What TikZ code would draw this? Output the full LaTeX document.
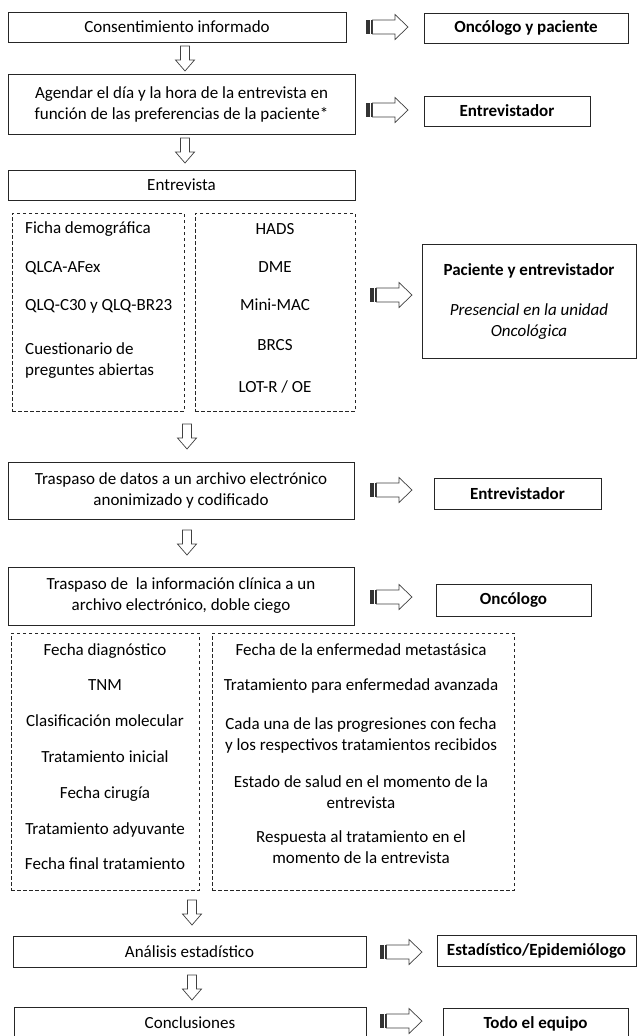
\documentclass[tikz,border=0pt]{standalone}
\usepackage{fontspec}
\setmainfont{Carlito}

\begin{document}
\begin{tikzpicture}
    [
        x = 1pt, y = -1pt,
        every node/.append style = {font = \fontsize{17}{21}\selectfont, inner sep = 0},
        wh/.style 2 args = {minimum width = #1pt, minimum height = #2pt},
        stepbox/.style = {draw = black!85, line width = 0.9pt, align = center},
        rolebox/.style = {stepbox, font = \fontsize{17}{21}\selectfont\bfseries},
        listbox/.style = {draw = black!85, line width = 0.8pt, dash pattern = on 3.5pt off 2.5pt},
        item/.style = {anchor = mid, align = center},
        arrline/.style = {draw = black!75, fill = white, line width = 0.7pt, line join = miter},
        downarr/.pic = {\draw[arrline] (-4.5,0) -- (4.5,0) -- (4.5,14) -- (9.5,14) -- (0,25) -- (-9.5,14) -- (-4.5,14) -- cycle;},
        rightarr/.pic = {
            \fill[black!80] (0,-7) rectangle (3.8,7);
            \fill[black!80] (5,-7) rectangle (6.5,7);
            \draw[arrline] (6.5,-7) -- (29,-7) -- (29,-12.5) -- (42,0) -- (29,12.5) -- (29,7) -- (6.5,7) -- cycle;}
    ]
    \useasboundingbox (0,0) rectangle (637,1036);

    % left column
    \node[stepbox, wh = {338}{30}] (consent) at (177,27) {Consentimiento informado};
    \node[stepbox, wh = {347}{60}] (agenda) at (181.5,104) {Agendar el día y la hora de la entrevista en\\función de las preferencias de la paciente*};
    \node[stepbox, wh = {347}{30}] (entrevista) at (181.5,185) {Entrevista};
    \node[listbox, wh = {172}{198}] (cuestL) at (98,312) {};
    \node[listbox, wh = {160}{198}] (cuestR) at (275,312) {};
    \node[stepbox, wh = {346}{57}] (traspaso) at (181,490.5) {Traspaso de datos a un archivo electrónico\\anonimizado y codificado};
    \node[stepbox, wh = {346}{58}] (clinica) at (181,596) {Traspaso de~ la información clínica a un\\archivo electrónico, doble ciego};
    \node[listbox, wh = {188}{257}] (clinL) at (105,761.5) {};
    \node[listbox, wh = {302}{257}] (clinR) at (363,761.5) {};
    \node[stepbox, wh = {353}{31}] (analisis) at (189.5,951.5) {Análisis estadístico};
    \node[stepbox, wh = {352}{31}] (conclus) at (190,1022.5) {Conclusiones};

    % who does it
    \node[rolebox, wh = {204}{30}] (quien1) at (526,28) {Oncólogo y paciente};
    \node[rolebox, wh = {166}{30}] (quien2) at (507,111) {Entrevistador};
    \node[stepbox, wh = {214}{114}] (quien3) at (529,301) {\textbf{Paciente y entrevistador}\\[19pt]\textit{Presencial en la unidad}\\\textit{Oncológica}};
    \node[rolebox, wh = {167}{31}] (quien4) at (517.5,493.5) {Entrevistador};
    \node[rolebox, wh = {155}{32}] (quien5) at (513.5,600) {Oncólogo};
    \node[rolebox, wh = {199}{31}] (quien6) at (536.5,950.5) {Estadístico/Epidemiólogo};
    \node[rolebox, wh = {185}{32}] (quien7) at (535.5,1024) {Todo el equipo};

    % questionnaires
    \node[anchor = mid west] (ficha) at (25,231) {Ficha demográfica};
    \node[anchor = mid west] (qlca) at (25,270) {QLCA-AFex};
    \node[anchor = mid west] (qlq) at (25,308) {QLQ-C30 y QLQ-BR23};
    \node[anchor = west, align = left] (abiertas) at (25,360.5) {Cuestionario de\\preguntes abiertas};
    \node[item] (hads) at (275,232) {HADS};
    \node[item] (dme) at (275,270) {DME};
    \node[item] (minimac) at (275,308) {Mini-MAC};
    \node[item] (brcs) at (275,348) {BRCS};
    \node[item] (lotr) at (275,390) {LOT-R / OE};

    % clinical data
    \node[item] (fdiag) at (105,653) {Fecha diagnóstico};
    \node[item] (tnm) at (105,688) {TNM};
    \node[item] (molec) at (105,724) {Clasificación molecular};
    \node[item] (tinicial) at (105,760) {Tratamiento inicial};
    \node[item] (fcirugia) at (105,796) {Fecha cirugía};
    \node[item] (adyuv) at (105,832) {Tratamiento adyuvante};
    \node[item] (ffinal) at (105,867) {Fecha final tratamiento};
    \node[item] (metast) at (361,653) {Fecha de la enfermedad metastásica};
    \node[item] (avanz) at (361,688) {Tratamiento para enfermedad avanzada};
    \node[align = center] (progres) at (361,735) {Cada una de las progresiones con fecha\\y los respectivos tratamientos recibidos};
    \node[align = center] (salud) at (361,792) {Estado de salud en el momento de la\\entrevista};
    \node[align = center] (respuesta) at (361,847.5) {Respuesta al tratamiento en el\\momento de la entrevista};

    % arrows
    \pic at (185,46) {downarr};
    \pic at (185,138) {downarr};
    \pic at (187,424) {downarr};
    \pic at (187,530) {downarr};
    \pic at (192,900) {downarr};
    \pic at (192,975) {downarr};
    \pic at (366,27) {rightarr};
    \pic at (366,110) {rightarr};
    \pic at (370,295) {rightarr};
    \pic at (370,490) {rightarr};
    \pic at (370,597) {rightarr};
    \pic at (380,952) {rightarr};
    \pic at (380,1021) {rightarr};

\end{tikzpicture}
\end{document}
